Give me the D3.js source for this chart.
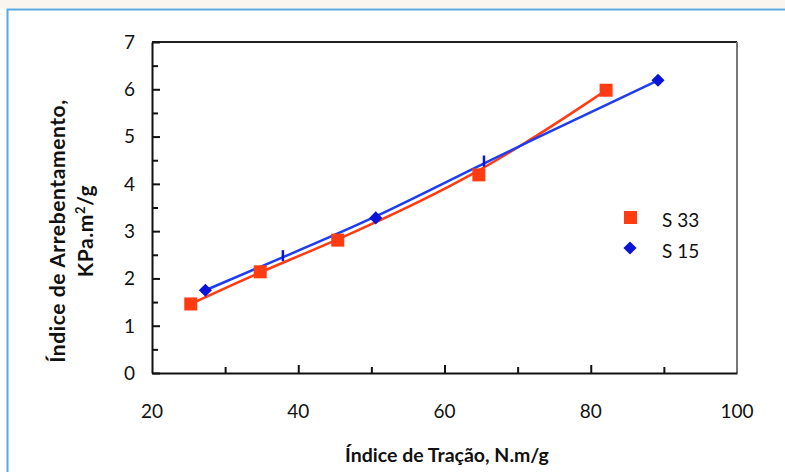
<!DOCTYPE html>
<html><head><meta charset="utf-8">
<script src="https://cdn.jsdelivr.net/npm/d3@7"></script>
<style>
body{margin:0;background:#fff;}
svg{display:block;}
text{font-family:Lato,"Open Sans",sans-serif;}
</style></head>
<body><svg id="c" width="785" height="472"></svg>
<script>
// Data
const s33X = [25.3, 34.8, 45.4, 64.7, 82.1];
const s33Y = [1.46, 2.14, 2.81, 4.19, 5.98];
const s15X = [27.3, 37.9, 50.6, 65.4, 89.2];
const s15Y = [1.75, 2.45, 3.28, 4.45, 6.19];
const xTickLabels = [20, 40, 60, 80, 100];
const yTickLabels = [0, 1, 2, 3, 4, 5, 6, 7];
const seriesNames = ["S 33", "S 15"];

const svg = d3.select("#c");
const L = 152, R = 737, T = 42, B = 373;
const x = d3.scaleLinear().domain([20, 100]).range([L, R]);
const y = d3.scaleLinear().domain([0, 7]).range([B, T]);

// top strip and outer frame
svg.append("rect").attr("x",0).attr("y",0).attr("width",785).attr("height",8).attr("fill","#fbf5f0");
svg.append("path").attr("d","M7.5,480 V9.5 H790").attr("fill","none").attr("stroke","#5aa8de").attr("stroke-width",2);

// plot frame
svg.append("line").attr("x1",L).attr("x2",R).attr("y1",T).attr("y2",T).attr("stroke","#222").attr("stroke-width",2);
svg.append("line").attr("x1",R).attr("x2",R).attr("y1",T).attr("y2",B).attr("stroke","#777").attr("stroke-width",2);

// y axis with inward ticks
const yAxis = d3.axisRight(y).tickValues(d3.range(0, 7.01, 0.5)).tickSize(0).tickFormat("");
const gy = svg.append("g").attr("transform",`translate(${L},0)`).call(yAxis);
gy.select(".domain").attr("stroke","#111").attr("stroke-width",2);
gy.selectAll(".tick line").attr("x2", d => (d % 1 === 0 ? 8 : 6)).attr("stroke","#111").attr("stroke-width",2);
svg.append("g").selectAll("text").data(yTickLabels).join("text")
  .attr("x",135).attr("y",d=>y(d)).attr("dy","0.36em").attr("text-anchor","end")
  .attr("font-size",19).attr("fill","#111").text(d=>d);

// x axis with inward ticks
const xAxis = d3.axisTop(x).tickValues(d3.range(30, 100, 10)).tickSize(0).tickFormat("");
const gx = svg.append("g").attr("transform",`translate(0,${B})`).call(xAxis);
gx.select(".domain").attr("stroke","#111").attr("stroke-width",2);
gx.selectAll(".tick line").attr("y2", d => (d % 20 === 0 ? -8 : -6)).attr("stroke","#111").attr("stroke-width",2);
svg.append("g").selectAll("text").data(xTickLabels).join("text")
  .attr("x",d=>x(d)).attr("y",411).attr("dy","0.36em").attr("text-anchor","middle")
  .attr("font-size",19).attr("fill","#111").text(d=>d);

// axis titles
svg.append("text").attr("x",447).attr("y",462).attr("text-anchor","middle")
  .attr("font-size",19.5).attr("font-weight","bold").attr("fill","#111").text("Índice de Tração, N.m/g");
const yt = svg.append("text").attr("transform","translate(65,231) rotate(-90)").attr("text-anchor","middle")
  .attr("font-size",21).attr("font-weight","bold").attr("fill","#111").attr("letter-spacing",0.6);
yt.append("tspan").attr("x",0).attr("y",0).text("Índice de Arrebentamento,");
yt.append("tspan").attr("x",0).attr("y",28).text("KPa.m");
yt.append("tspan").attr("dy",-8).attr("font-size",13).text("2");
yt.append("tspan").attr("dy",8).text("/g");

const red = "#ff3b12", blue = "#1e3cf0", blueDark = "#0a14d8";
const s33 = s33X.map((v,i)=>[v, s33Y[i]]);
const s15 = s15X.map((v,i)=>[v, s15Y[i]]);
const line = d3.line().x(d=>x(d[0])).y(d=>y(d[1])).curve(d3.curveBasis);

svg.append("path").datum(s33).attr("d",line).attr("fill","none").attr("stroke",red).attr("stroke-width",2.5);
svg.append("path").datum(s15).attr("d",line).attr("fill","none").attr("stroke",blue).attr("stroke-width",2.5);

// markers
svg.append("g").selectAll("rect").data(s33).join("rect")
  .attr("x",d=>x(d[0])-6.5).attr("y",d=>y(d[1])-6.5).attr("width",13).attr("height",13).attr("fill",red);
const dia = d3.symbol().type(d3.symbolDiamond2).size(110);
svg.append("g").selectAll("path").data(s15.filter((d,i)=>i===0||i===2||i===4)).join("path")
  .attr("transform",d=>`translate(${x(d[0])},${y(d[1])})`).attr("d",dia).attr("fill",blueDark);
svg.append("g").selectAll("line").data(s15.filter((d,i)=>i===1||i===3)).join("line")
  .attr("x1",d=>x(d[0])).attr("x2",d=>x(d[0])).attr("y1",d=>y(d[1])-7).attr("y2",d=>y(d[1])+4)
  .attr("stroke",blueDark).attr("stroke-width",2.5);

// legend
const lg = svg.append("g");
lg.append("rect").attr("x",624).attr("y",211).attr("width",13).attr("height",13).attr("fill",red);
lg.append("path").attr("transform","translate(630,248)").attr("d",dia).attr("fill",blueDark);
lg.selectAll("text").data(seriesNames).join("text")
  .attr("x",662).attr("y",(d,i)=>220+i*31).attr("dy","0.36em").attr("font-size",19).attr("fill","#111").text(d=>d);
</script></body></html>
